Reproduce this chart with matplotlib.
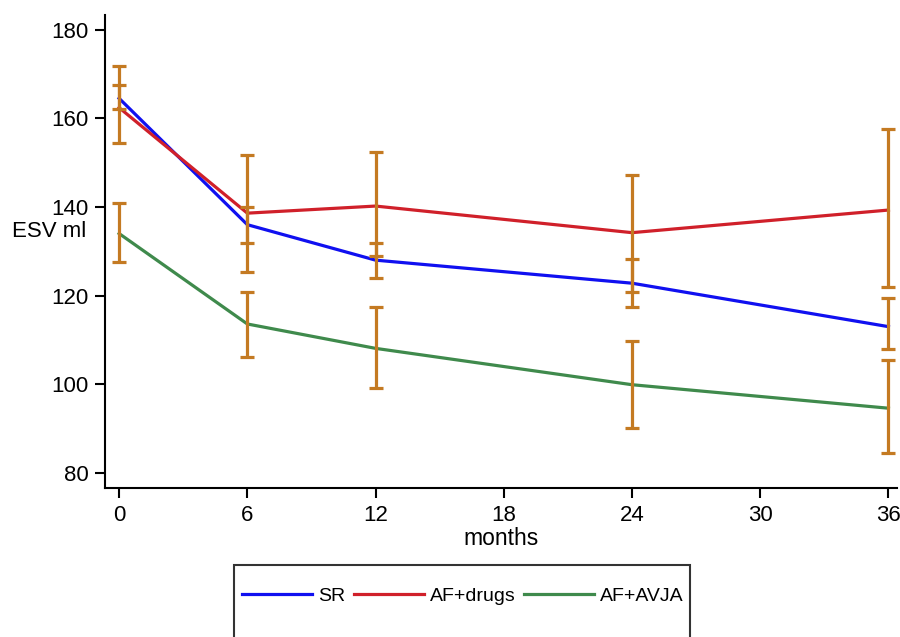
import matplotlib
matplotlib.use('Agg')
import matplotlib.pyplot as plt
from matplotlib.patches import Rectangle
import numpy as np

plt.rcParams['font.family'] = ['Liberation Sans', 'DejaVu Sans']

months = [0, 6, 12, 24, 36]

# mean ESV per group
sr = [164.5, 136.0, 128.0, 122.8, 113.0]
af_drugs = [162.4, 138.6, 140.2, 134.2, 139.3]
af_avja = [134.0, 113.6, 108.1, 99.9, 94.6]

# confidence limits (low, high)
sr_lo = [162.0, 131.8, 123.9, 117.4, 107.9]
sr_hi = [167.4, 139.9, 131.8, 128.2, 119.4]
drugs_lo = [154.5, 125.3, 128.9, 120.8, 121.9]
drugs_hi = [171.7, 151.8, 152.5, 147.3, 157.5]
avja_lo = [127.5, 106.1, 99.1, 90.1, 84.5]
avja_hi = [141.0, 120.8, 117.4, 109.7, 105.5]

labels = ['SR', 'AF+drugs', 'AF+AVJA']
colors = ['#1010f0', '#d0202a', '#3f8a4c']
ci_color = '#c47a22'

fig = plt.figure(figsize=(9, 6.37), dpi=100)
ax = fig.add_axes([105 / 900, 149 / 637, 792 / 900, 473 / 637])

handles = []
for y, c, lab in zip([sr, af_drugs, af_avja], colors, labels):
    h, = ax.plot(months, y, color=c, lw=2.3, label=lab, zorder=2)
    handles.append(h)

for lo, hi in [(sr_lo, sr_hi), (drugs_lo, drugs_hi), (avja_lo, avja_hi)]:
    lo = np.array(lo)
    hi = np.array(hi)
    mid = (lo + hi) / 2
    ax.errorbar(months, mid, yerr=[mid - lo, hi - mid], fmt='none',
                ecolor=ci_color, elinewidth=2.3, capsize=5, capthick=2.3, zorder=3)

ax.set_xlim(-0.66, 36.4)
ax.set_ylim(76.6, 183.3)
ax.set_xticks([0, 6, 12, 18, 24, 30, 36])
ax.set_yticks([80, 100, 120, 140, 160, 180])
ax.tick_params(labelsize=16, length=7, width=1.5, pad=5)
for s in ['top', 'right']:
    ax.spines[s].set_visible(False)
for s in ['left', 'bottom']:
    ax.spines[s].set_linewidth(1.5)
ax.set_xlabel('months', fontsize=16.5, labelpad=1)
fig.text(49 / 900, 1 - 232 / 637, 'ESV ml', fontsize=16, ha='center', va='center')

# legend box (runs off the bottom like the original)
fig.add_artist(Rectangle((234 / 900, -0.05), (690 - 234) / 900, 0.05 + (637 - 565) / 637,
                         transform=fig.transFigure, fill=False, ec='#333333', lw=1.5))
fig.legend(handles=handles, loc='center left', bbox_to_anchor=(242 / 900, 1 - 596 / 637),
           ncol=3, frameon=False, fontsize=14, handlelength=3.6, handletextpad=0.3,
           columnspacing=0.45, borderaxespad=0, borderpad=0)

fig.savefig('out.png', dpi=100)
